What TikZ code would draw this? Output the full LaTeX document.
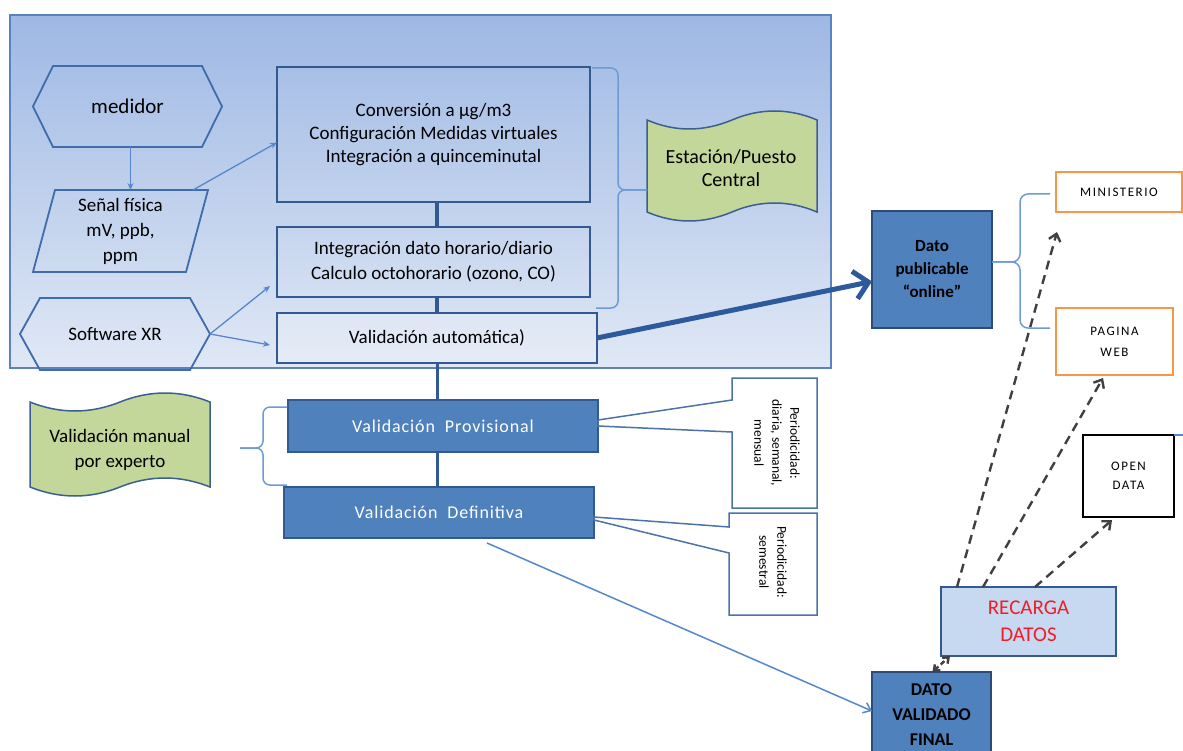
\documentclass[tikz,border=0pt]{standalone}
\usepackage{fontspec}
\setmainfont{Carlito}
\usetikzlibrary{arrows.meta,calc}
\definecolor{bgtop}{RGB}{158,184,228}
\definecolor{bgbot}{RGB}{224,232,245}
\definecolor{bgedge}{RGB}{90,130,190}
\definecolor{boxblue}{RGB}{50,90,145}
\definecolor{hexblue}{RGB}{62,108,172}
\definecolor{thinblue}{RGB}{85,135,205}
\definecolor{braceblue}{RGB}{110,155,215}
\definecolor{midblue}{RGB}{79,129,189}
\definecolor{darkedge}{RGB}{45,75,120}
\definecolor{tapegreen}{RGB}{196,215,155}
\definecolor{tapeedge}{RGB}{60,95,145}
\definecolor{orangeedge}{RGB}{247,150,70}
\definecolor{recfill}{RGB}{198,217,241}
\definecolor{recred}{RGB}{240,30,40}
\definecolor{dashgrey}{RGB}{64,64,64}
\definecolor{thickblue}{RGB}{45,90,155}
\definecolor{callblue}{RGB}{75,115,170}
\newcommand\fsMain{\fontsize{19}{23}\selectfont}
\newcommand\fsOut{\fontsize{13}{20}\selectfont\addfontfeatures{LetterSpace=12}}
\begin{document}
\begin{tikzpicture}[x=1pt,y=-1pt,
  lbl/.style={inner sep=0pt, outer sep=0pt, align=center, text=black},
  bluebox/.style={draw=boxblue, line width=1.8pt, inner sep=0pt, outer sep=0pt, align=center, font=\fsMain},
  darkbox/.style={draw=darkedge, fill=midblue, line width=1.5pt, inner sep=0pt, outer sep=0pt, align=center},
  outbox/.style={draw=orangeedge, fill=white, line width=1.8pt, inner sep=0pt, outer sep=0pt, align=center, font=\fsOut},
  hexline/.style={draw=hexblue, line width=1.8pt, line join=miter},
  tapeline/.style={draw=tapeedge, fill=tapegreen, line width=1.5pt},
  thinarrow/.style={draw=thinblue, line width=1.3pt, -{Stealth[length=7pt,width=6pt]}},
  stem/.style={draw=boxblue, line width=3.5pt},
  bracel/.style={draw=braceblue, line width=1.5pt, rounded corners=7pt},
  dasharrow/.style={draw=dashgrey, line width=2.4pt, dash pattern=on 9pt off 6pt, -{Straight Barb[length=7pt,width=12pt]}},
  callline/.style={draw=callblue, fill=white, line width=1.5pt, line join=miter},
  calltext/.style={lbl, rotate=-90, font=\fontsize{13.5}{18}\selectfont}
]
\useasboundingbox (0,0) rectangle (1183,751);
\clip (0,0) rectangle (1183,751);
\fill[white] (0,0) rectangle (1183,751);

% background panel
\path[top color=bgtop, bottom color=bgbot, draw=bgedge, line width=1.2pt] (10,15) rectangle (831,368);

% left input shapes
\node[lbl, font=\fontsize{21}{25}\selectfont, minimum width=189pt, minimum height=81pt] (med) at (127.5,106.5) {medidor};
\draw[hexline] ([xshift=20pt]med.north west) -- ([xshift=-20pt]med.north east) -- (med.east) -- ([xshift=-20pt]med.south east) -- ([xshift=20pt]med.south west) -- (med.west) -- cycle;

\node[lbl, font=\fontsize{19}{25}\selectfont, minimum width=175pt, minimum height=82pt] (sen) at (120.5,231) {Señal física\\mV, ppb,\\ppm};
\draw[hexline] ([xshift=22pt]sen.north west) -- (sen.north east) -- ([xshift=-22pt]sen.south east) -- (sen.south west) -- cycle;

\node[lbl, font=\fsMain, minimum width=190pt, minimum height=72pt] (sxr) at (115,334) {Software XR};
\draw[hexline] ([xshift=20pt]sxr.north west) -- ([xshift=-20pt]sxr.north east) -- (sxr.east) -- ([xshift=-20pt]sxr.south east) -- ([xshift=20pt]sxr.south west) -- (sxr.west) -- cycle;

% processing boxes
\node[bluebox, minimum width=313pt, minimum height=135pt] (conv) at (433.5,134.5) {Conversión a µg/m3\\Configuración Medidas virtuales\\Integración a quinceminutal};
\node[bluebox, font=\fontsize{19}{25}\selectfont, minimum width=313pt, minimum height=70pt] (integ) at (433.5,262) {Integración dato horario/diario\\Calculo octohorario (ozono, CO)};
\node[bluebox, fill=white, fill opacity=0.2, text opacity=1, minimum width=320pt, minimum height=50pt] (valauto) at (437,338) {Validación automática)};

% Estacion tape
\path[tapeline] (647,120) .. controls (675,132) and (703,132) .. (732,120) .. controls (760,108) and (789,108) .. (817,120) -- (817,212) .. controls (789,200) and (760,200) .. (732,212) .. controls (703,224) and (675,224) .. (647,212) -- cycle;
\node[lbl, font=\fontsize{20}{23}\selectfont] (est) at (731,168) {Estación/Puesto\\Central};

% brace to Estacion
\draw[bracel] (592,68) -- (618,68) -- (618,190) -- (647,190);
\draw[bracel] (596,308) -- (618,308) -- (618,190) -- (647,190);

% arrows in panel
\draw[thinarrow] ([xshift=3pt]med.south) -- ([xshift=3pt]med.south |- sen.north);
\draw[thinarrow] ([xshift=-15pt]sen.north east) -- ([yshift=-8pt]conv.west);
\draw[thinarrow] (sxr.east) -- ([xshift=-7pt,yshift=11pt]integ.south west);
\draw[thinarrow] (sxr.east) -- ([xshift=-7pt,yshift=-7pt]valauto.west);
\draw[stem] (valauto.north |- conv.south) -- (valauto.north |- integ.north);
\draw[stem] (valauto.north |- integ.south) -- (valauto.north);

% manual validation
\path[tapeline] (30,402) .. controls (60,414) and (90,414) .. (120,402) .. controls (150,390) and (180,390) .. (210,402) -- (210,487) .. controls (180,475) and (150,475) .. (120,487) .. controls (90,499) and (60,499) .. (30,487) -- cycle;
\node[lbl, font=\fontsize{19}{25}\selectfont] (vman) at (120,450) {Validación manual\\por experto};

\node[darkbox, draw=boxblue, minimum width=310pt, minimum height=52pt, text=white, font=\fontsize{18}{22}\selectfont\addfontfeatures{LetterSpace=5}] (prov) at (443,426) {Validación\ \ Provisional};
\node[darkbox, draw=boxblue, minimum width=310pt, minimum height=51pt, text=white, font=\fontsize{18}{22}\selectfont\addfontfeatures{LetterSpace=5}] (def) at (439,512.5) {Validación\ \ Definitiva};
\draw[stem, line width=3pt] (valauto.south) -- (valauto.south |- prov.north);
\draw[stem, line width=3pt] (valauto.south |- prov.south) -- (valauto.south |- def.north);

\draw[bracel] (287,407) -- (263,407) -- (263,448) -- (240,448);
\draw[bracel] (287,485) -- (263,485) -- (263,448) -- (240,448);

% callouts
\path[callline] (732,378) -- (817,378) -- (817,508) -- (732,508) -- (732,432) -- (598,426) -- (598,420) -- (732,400) -- cycle;
\node[calltext] (c1) at (777,443) {Periodicidad:\\diaria, semanal,\\mensual};
\path[callline] (729,513) -- (817,513) -- (817,615) -- (729,615) -- (729,553) -- (594,520) -- (594,517) -- (729,527) -- cycle;
\node[calltext] (c2) at (773,562) {Periodicidad:\\semestral};

% outputs
\node[darkbox, minimum width=120pt, minimum height=117pt, font=\fontsize{17}{23}\selectfont\bfseries] (dato) at (932,269.5) {Dato\\publicable\\“online”};
\draw[draw=thickblue, line width=5pt, -{Straight Barb[length=14pt,width=28pt]}] (valauto.east) -- ([yshift=-12pt]dato.west);

\node[outbox, minimum width=126pt, minimum height=40pt] (mini) at (1119,192) {MINISTERIO};
\node[outbox, minimum width=117pt, minimum height=67pt, font=\fontsize{13}{21}\selectfont\addfontfeatures{LetterSpace=12}] (pweb) at (1114.5,341.5) {PAGINA\\WEB};
\node[outbox, draw=black, minimum width=91pt, minimum height=82pt, font=\fontsize{13}{19}\selectfont\addfontfeatures{LetterSpace=12}] (odata) at (1128.5,476) {OPEN\\DATA};
\draw[draw=thinblue, line width=1.5pt] (odata.north east) -- (1190,435);

\draw[bracel, rounded corners=8pt] (992,262) -- (1020,262) -- (1020,194) -- (1050,194);
\draw[bracel, rounded corners=8pt] (992,262) -- (1020,262) -- (1020,328) -- (1050,328);

\node[darkbox, fill=recfill, draw=boxblue, minimum width=175pt, minimum height=69pt, text=recred, font=\fontsize{21}{27}\selectfont] (rec) at (1028.5,621.5) {RECARGA\\DATOS};
\node[darkbox, minimum width=119pt, minimum height=86pt, font=\fontsize{18}{25}\selectfont\bfseries] (dvf) at (931.5,715) {DATO\\VALIDADO\\FINAL};

\draw[draw=thinblue, line width=1.5pt, -{Straight Barb[length=7pt,width=11pt]}] ([xshift=48pt,yshift=-5pt]def.south) -- ([yshift=4pt]dvf.west);

\draw[dasharrow] ([xshift=16pt]rec.north west) -- ([xshift=1pt,yshift=-20pt]mini.south west);
\draw[dasharrow] ([xshift=42pt]rec.north west) -- ([xshift=-11.5pt,yshift=-3pt]pweb.south);
\draw[dasharrow] ([xshift=94pt]rec.north west) -- ([xshift=-16.5pt,yshift=-3pt]odata.south);
\draw[dasharrow, dash pattern=on 5pt off 3pt, {Straight Barb[length=5pt,width=8pt]}-{Straight Barb[length=5pt,width=8pt]}] ([xshift=1pt]dvf.north) -- ([xshift=9pt]rec.south west);
\end{tikzpicture}
\end{document}
